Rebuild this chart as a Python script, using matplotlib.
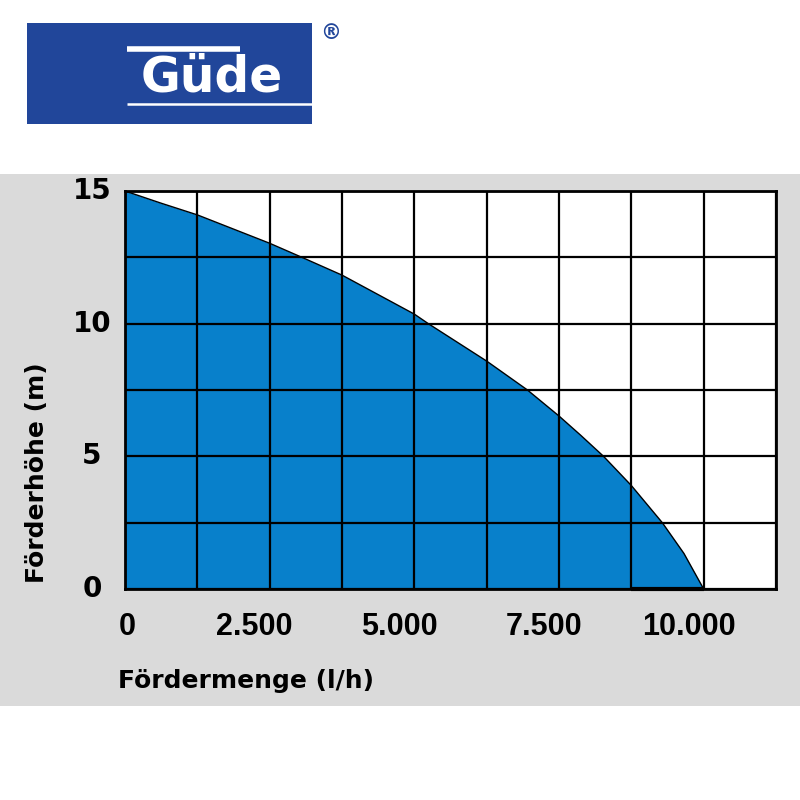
import numpy as np
import matplotlib
matplotlib.use("Agg")
import matplotlib.pyplot as plt
from matplotlib.patches import Rectangle
from matplotlib.lines import Line2D

# ---- data ----
flow_lh = [0, 625, 1250, 2500, 3057, 3750, 5000, 5242, 6250, 6955, 7500, 7872, 8270, 8750, 9285, 9659, 10000]
head_m = [15, 14.54, 14.1, 13.03, 12.5, 11.83, 10.36, 10.0, 8.59, 7.5, 6.52, 5.8, 5.0, 3.9, 2.5, 1.34, 0]
x_tick_values = [0, 2500, 5000, 7500, 10000]
x_tick_labels = ["0", "2.500", "5.000", "7.500", "10.000"]
y_tick_values = [0, 5, 10, 15]
y_tick_labels = ["0", "5", "10", "15"]
x_label = "Fördermenge (l/h)"
y_label = "Förderhöhe (m)"
logo_text = "Güde"

W = H = 800
fig = plt.figure(figsize=(8, 8), dpi=100)
fig.patch.set_facecolor("white")

def fx(px):
    return px / W

def fy(py):
    return 1 - py / H

# grey panel
fig.patches.append(Rectangle((0, fy(706)), 1, (706 - 174) / H, transform=fig.transFigure,
                             facecolor="#dadada", edgecolor="none", zorder=-5))

# logo
fig.patches.append(Rectangle((fx(27), fy(124)), (312 - 27) / W, (124 - 23) / H, transform=fig.transFigure,
                             facecolor="#21469a", edgecolor="none", zorder=1))
fig.lines.append(Line2D([fx(127), fx(240)], [fy(48.5), fy(48.5)], transform=fig.transFigure,
                        color="white", lw=4, solid_capstyle="butt", zorder=2))
fig.lines.append(Line2D([fx(127), fx(312)], [fy(104), fy(104)], transform=fig.transFigure,
                        color="white", lw=1.8, solid_capstyle="butt", zorder=2))
fig.text(fx(212), fy(92), logo_text, color="white", fontsize=35, fontweight="bold",
         family="DejaVu Sans", ha="center", va="baseline", zorder=3)
fig.text(fx(331), fy(33), "®", color="#21469a", fontsize=15, fontweight="bold",
         ha="center", va="center", zorder=3)

# axes
ax = fig.add_axes([fx(125), fy(589), (776 - 125) / W, (589 - 191) / H])
ax.set_zorder(2)
ax.set_facecolor("white")
ax.set_xlim(0, 11250)
ax.set_ylim(0, 15)

ax.fill_between(flow_lh, head_m, 0, color="#0880cb", lw=0, zorder=1)
ax.plot(flow_lh, head_m, color="black", lw=1.0, zorder=3)
ax.plot([8750, 10000], [0, 0], color="black", lw=3, zorder=4, clip_on=False, solid_capstyle="butt")

ax.set_xticks(np.arange(0, 11251, 1250))
ax.set_yticks(np.arange(0, 15.01, 2.5))
ax.set_xticklabels([])
ax.set_yticklabels([])
ax.tick_params(length=0)
ax.grid(True, color="black", lw=1.6)
for s in ax.spines.values():
    s.set_color("black")
    s.set_linewidth(2)

# tick labels
for v, lab in zip(x_tick_values, x_tick_labels):
    dx = 2 if v == 0 else -15
    ax.annotate(lab, xy=(v, 0), xycoords=("data", "axes fraction"), xytext=(dx, -38),
                textcoords="offset pixels", ha="center", va="center",
                fontsize=22, fontweight="bold", family="Liberation Sans", annotation_clip=False)
for v, lab in zip(y_tick_values, y_tick_labels):
    ax.annotate(lab, xy=(0, v), xycoords=("axes fraction", "data"), xytext=(-33, 0),
                textcoords="offset pixels", ha="center", va="center",
                fontsize=20, fontweight="bold", family="DejaVu Sans", annotation_clip=False)

fig.text(fx(118), fy(681), x_label, ha="left", va="center", fontsize=18, fontweight="bold",
         family="DejaVu Sans")
fig.text(fx(37), fy(473), y_label, ha="center", va="center", rotation=90, fontsize=18,
         fontweight="bold", family="DejaVu Sans")

fig.savefig("out.png", dpi=100)
